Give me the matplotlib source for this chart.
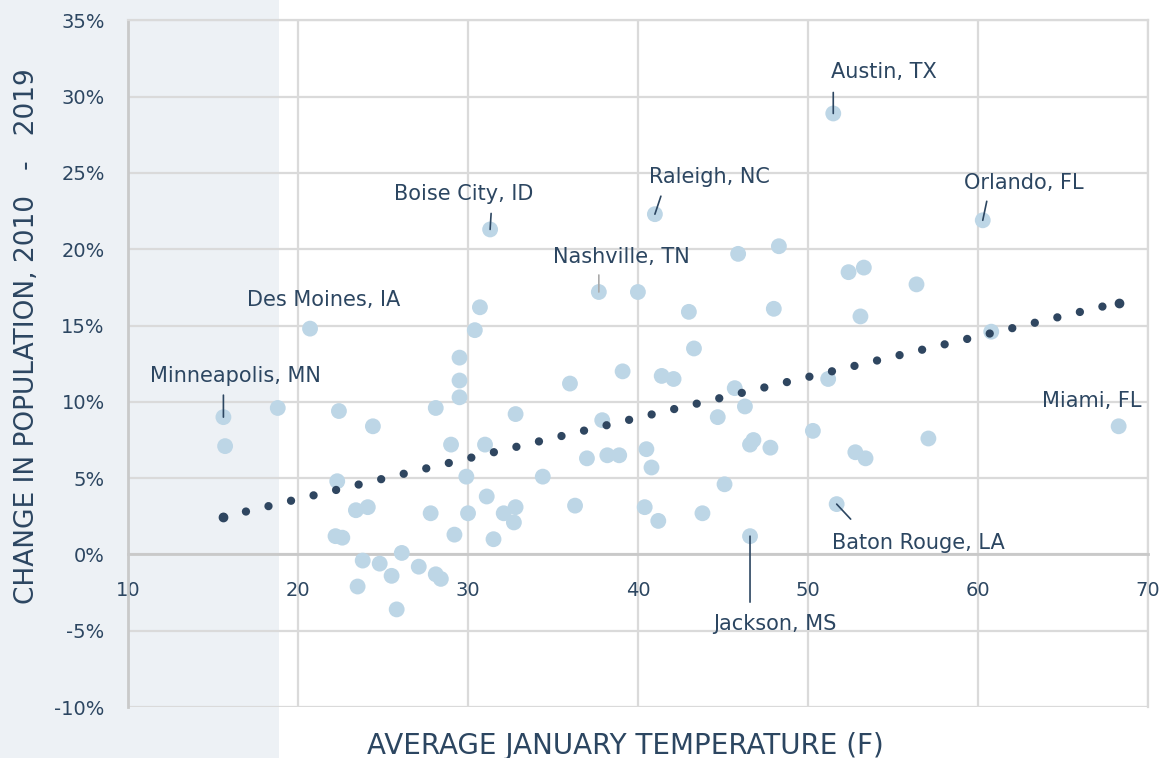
import numpy as np
import matplotlib.pyplot as plt
from matplotlib.patches import Rectangle
from matplotlib.ticker import FuncFormatter

# --- Data: average January temperature (F) vs. population change 2010-2019 (%) ---
temp = [15.6, 15.7, 18.8, 20.7, 22.4, 24.4, 22.3, 22.2, 22.6, 23.4, 24.1, 23.8,
        23.5, 24.8, 25.5, 26.1, 25.8, 27.1, 28.1, 28.4, 27.8, 28.1, 29.0, 29.2,
        29.5, 29.5, 29.5, 29.9, 30.0, 30.4, 30.7, 31.0, 31.1, 31.5, 31.3, 32.1,
        32.7, 32.8, 32.8, 34.4, 36.0, 36.3, 37.7, 37.9, 37.0, 38.2, 38.9, 39.1,
        40.0, 43.0, 43.3, 41.4, 42.1, 45.7, 46.3, 44.7, 46.6, 46.8, 40.5, 40.8,
        45.1, 40.4, 41.2, 43.8, 46.6, 45.9, 41.0, 48.3, 52.4, 53.3, 56.4, 48.0,
        53.1, 51.2, 50.3, 47.8, 52.8, 53.4, 57.1, 51.7, 51.5, 60.3, 60.8, 68.3]
change = [9.0, 7.1, 9.6, 14.8, 9.4, 8.4, 4.8, 1.2, 1.1, 2.9, 3.1, -0.4,
          -2.1, -0.6, -1.4, 0.1, -3.6, -0.8, -1.3, -1.6, 2.7, 9.6, 7.2, 1.3,
          12.9, 11.4, 10.3, 5.1, 2.7, 14.7, 16.2, 7.2, 3.8, 1.0, 21.3, 2.7,
          2.1, 9.2, 3.1, 5.1, 11.2, 3.2, 17.2, 8.8, 6.3, 6.5, 6.5, 12.0,
          17.2, 15.9, 13.5, 11.7, 11.5, 10.9, 9.7, 9.0, 7.2, 7.5, 6.9, 5.7,
          4.6, 3.1, 2.2, 2.7, 1.2, 19.7, 22.3, 20.2, 18.5, 18.8, 17.7, 16.1,
          15.6, 11.5, 8.1, 7.0, 6.7, 6.3, 7.6, 3.3, 28.9, 21.9, 14.6, 8.4]

# labelled cities: index into data, label, text offset (px), leader end offset (px)
label_idx = [0, 3, 34, 42, 66, 80, 81, 83, 79, 64]
label_txt = ["Minneapolis, MN", "Des Moines, IA", "Boise City, ID", "Nashville, TN",
             "Raleigh, NC", "Austin, TX", "Orlando, FL", "Miami, FL",
             "Baton Rouge, LA", "Jackson, MS"]
label_off = [(-73, 41), (-63, 29), (-96, 35), (-46, 35), (-6, 37), (-2, 41),
             (-19, 37), (-77, 25), (-5, -39), (-37, -88)]
leader_off = [(0, 22), None, (1, 16), (0, 17), (6, 18), (0, 21),
              (4, 19), None, (14, -15), (0, -66)]

# trend line
trend_x = [15.6, 68.3]
trend_y = [2.46, 16.5]

shade_edge = 18.9  # temperature where the shaded band ends

dark = '#2c4661'
dot_blue = '#bdd6e6'
grid_c = '#dadada'

fig = plt.figure(figsize=(11.63, 7.58), dpi=100)
ax = fig.add_axes([0.1103, 0.0672, 0.8764, 0.9059])
ax.set_facecolor('none')

ax.set_xlim(10, 70)
ax.set_ylim(-10, 35)
ax.set_xticks(np.arange(10, 71, 10))
ax.set_yticks(np.arange(-10, 36, 5))
ax.yaxis.set_major_formatter(FuncFormatter(lambda v, p: f"{v:.0f}%"))
ax.grid(True, color=grid_c, linewidth=1.6)
ax.set_axisbelow(True)

for s in ['top', 'right']:
    ax.spines[s].set_color(grid_c)
    ax.spines[s].set_linewidth(1.6)
ax.spines['left'].set_color('#c9c9c9')
ax.spines['left'].set_linewidth(2)
ax.spines['bottom'].set_position(('data', 0))
ax.spines['bottom'].set_color('#c9c9c9')
ax.spines['bottom'].set_linewidth(2)
ax.tick_params(axis='both', length=0, labelsize=14, labelcolor=dark)
ax.tick_params(axis='x', pad=19)
ax.tick_params(axis='y', pad=17)

# shaded band from the figure edge to shade_edge
x_edge = ax.transData.transform((shade_edge, 0))[0]
x_edge = fig.transFigure.inverted().transform((x_edge, 0))[0]
fig.patches.append(Rectangle((0, 0), x_edge, 1, transform=fig.transFigure,
                             facecolor='#edf1f5', edgecolor='none', zorder=-10))

ax.scatter(temp, change, s=130, color=dot_blue, edgecolors='none', zorder=3)
ax.plot(trend_x, trend_y, color='#2f4660', linewidth=6,
        linestyle=(0, (0.001, 2.78)), dash_capstyle='round',
        marker='o', markersize=6, markevery=[0, 1], zorder=4)

for i, txt, off, lead in zip(label_idx, label_txt, label_off, leader_off):
    pt = (temp[i], change[i])
    ax.annotate(txt, xy=pt, xytext=off, textcoords='offset pixels',
                ha='left', va='center', fontsize=15, color=dark, zorder=5)
    if lead is not None:
        lc = '#aaaaaa' if txt.startswith('Nashville') else dark
        ax.annotate('', xy=pt, xytext=lead, textcoords='offset pixels',
                    arrowprops=dict(arrowstyle='-', color=lc, lw=1.2,
                                    shrinkA=0, shrinkB=0), zorder=5)

fig.text(625 / 1163, 1 - 746 / 758, "AVERAGE JANUARY TEMPERATURE (F)",
         ha='center', va='center', fontsize=20, color=dark)
fig.text(27 / 1163, 1 - 336 / 758, "CHANGE IN POPULATION, 2010   -   2019",
         ha='center', va='center', rotation=90, fontsize=19, color=dark)

fig.savefig('out.png', dpi=100)
